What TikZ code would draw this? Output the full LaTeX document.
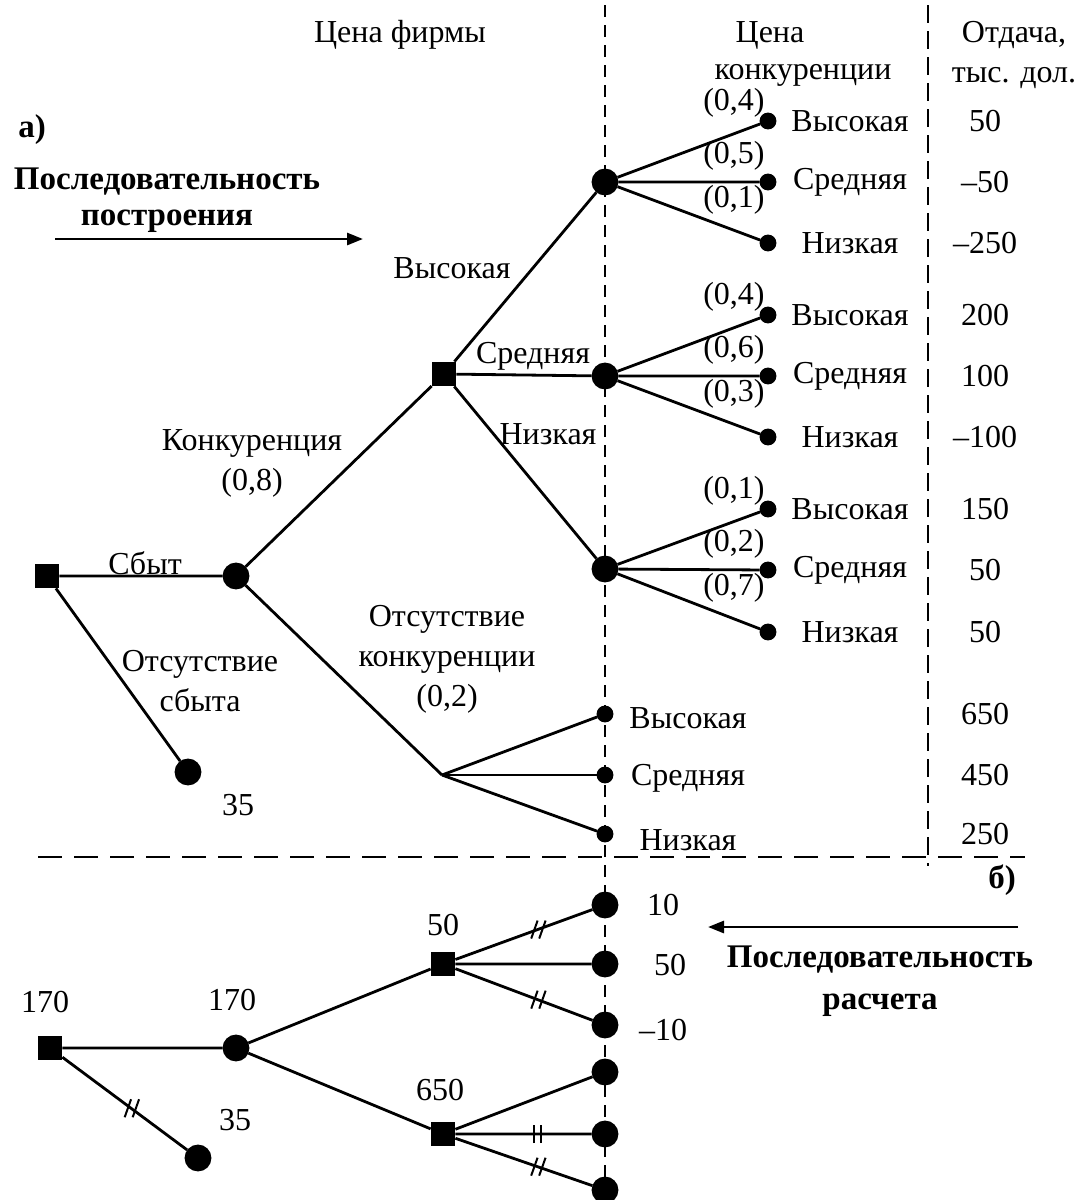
\documentclass[tikz,border=0pt]{standalone}
\usepackage{fontspec}
\setmainfont{Liberation Serif}
\usetikzlibrary{arrows.meta}
\tikzset{
  dec/.style={draw, fill, rectangle, minimum size=11pt, inner sep=0pt},
  chance/.style={draw, fill, circle, minimum size=12pt, inner sep=0pt},
  leaf/.style={draw, fill, circle, minimum size=7pt, inner sep=0pt},
  divider/.style={line width=1pt, dash pattern=on #1 off 4pt},
  cut/.pic={\draw[line width=1pt] (-3.2pt,-4.5pt) -- (0pt,4.5pt) (0.8pt,-4.5pt) -- (4pt,4.5pt);},
  vcut/.pic={\draw[line width=1pt] (-1.8pt,-4.5pt) -- (-1.8pt,4.5pt) (1.8pt,-4.5pt) -- (1.8pt,4.5pt);},
  lbl/.style={inner sep=1pt, align=center},
  bold/.style={font=\fontsize{16.5}{20}\selectfont\bfseries}
}
\begin{document}
\begin{tikzpicture}[x=0.5pt, y=-0.5pt, line width=1.4pt, font=\fontsize{16}{20}\selectfont]
  \useasboundingbox (0,0) rectangle (1082,1200);
  % dividers
  \draw[divider=6pt] (605,5) -- (605,1195);
  \draw[divider=9pt] (928,5) -- (928,866);
  \draw[divider=12pt, dash pattern=on 12pt off 6pt] (38,857) -- (1025,857);
  % headings
  \node[lbl] (hfirm) at (400,35) {Цена фирмы};
  \node[lbl] (hcomp1) at (770,35) {Цена};
  \node[lbl] (hcomp2) at (803,75) {конкуренции};
  \node[lbl] (hpay) at (1014,55) {Отдача,\\тыс. дол.};
  \node[lbl, bold] (tagA) at (32,130) {а)};
  \node[lbl, font=\fontsize{16.5}{18}\selectfont\bfseries] (seqA) at (167,200) {Последовательность\\построения};
  \coordinate (arA1) at (55,239);
  \coordinate (arA2) at (363,239);
  \draw[-{Triangle[length=8pt,width=6pt]}] (arA1) -- (arA2);

  % tree a)
  \node[dec] (r) at (47,576) {};
  \node[chance] (s) at (236,576) {};
  \node[chance] (ns) at (188,772) {};
  \node[dec] (p) at (444,374) {};
  \coordinate (nc) at (442,775);
  \node[chance] (ph) at (605,182) {};
  \node[chance] (pm) at (605,376) {};
  \node[chance] (pl) at (605,569) {};
  \draw (r) -- (s) (r) -- (ns) (s) -- (p) (s) -- (nc);
  \draw (p) -- (ph) (p) -- (pm) (p) -- (pl);
  \node[lbl] (lsb) at (145,563) {Сбыт};
  \node[lbl] (lnsb) at (200,681) {Отсутствие\\сбыта};
  \node[lbl] (l35) at (238,805) {35};
  \node[lbl] (lcomp) at (252,463) {Конкуренция\\(0,8)};
  \node[lbl] (lncomp) at (447,659) {Отсутствие\\конкуренции\\(0,2)};
  \node[lbl] (lph) at (452,268) {Высокая};
  \node[lbl] (lpm) at (533,356) {Средняя};
  \node[lbl] (lpl) at (548,434) {Низкая};
  \foreach \src/\ya/\yb/\yc/\pa/\pb/\pc/\va/\vb/\vc in
      {ph/121/182/243/4/5/1/50/–50/–250, pm/315/376/437/4/6/3/200/100/–100, pl/509/570/632/1/2/7/150/50/50} {
    \node[leaf] (\src-1) at (768,\ya) {};
    \node[leaf] (\src-2) at (768,\yb) {};
    \node[leaf] (\src-3) at (768,\yc) {};
    \draw (\src) -- (\src-1) (\src) -- (\src-2) (\src) -- (\src-3);
    \node[lbl, anchor=south east] at (\src-1.center) {(0,\pa)};
    \node[lbl, anchor=south east] at (\src-2.north) {(0,\pb)};
    \node[lbl, anchor=north east] at (\src-2.center) {(0,\pc)};
    \node[lbl] at (850,\ya) {Высокая};
    \node[lbl] at (850,\yb) {Средняя};
    \node[lbl] at (850,\yc) {Низкая};
    \node[lbl] at (985,\ya) {\va};
    \node[lbl] at (985,\yb) {\vb};
    \node[lbl] at (985,\yc) {\vc};
  }
  \foreach \i/\y/\ty/\txt/\v in {1/714/718/Высокая/650, 2/775/778/Средняя/450, 3/834/840/Низкая/250} {
    \node[leaf] (nc-\i) at (605,\y) {};
    \draw (nc) -- (nc-\i);
    \node[lbl] at (688,\ty) {\txt};
    \node[lbl] at (985,\y) {\v};
  }

  % tree b)
  \node[lbl, bold] (tagB) at (1002,880) {б)};
  \coordinate (arB1) at (1018,927);
  \coordinate (arB2) at (708,927);
  \draw[-{Triangle[length=8pt,width=6pt]}] (arB1) -- (arB2);
  \node[lbl, font=\fontsize{16.5}{21}\selectfont\bfseries] (seqB) at (880,981) {Последовательность\\расчета};
  \node[dec] (rb) at (50,1048) {};
  \node[chance] (sb) at (236,1048) {};
  \node[chance] (nsb) at (198,1158) {};
  \node[dec] (pb) at (443,964) {};
  \node[dec] (ncb) at (443,1134) {};
  \foreach \i/\y in {1/905, 2/964, 3/1025} \node[chance] (pb-\i) at (605,\y) {};
  \foreach \i/\y in {1/1072, 2/1134, 3/1190} \node[chance] (ncb-\i) at (605,\y) {};
  \draw (rb) -- (sb) (sb) -- (pb) (sb) -- (ncb);
  \draw (rb) -- pic[pos=.55]{cut} (nsb);
  \draw (pb) -- pic[pos=.6]{cut} (pb-1) (pb) -- (pb-2) (pb) -- pic[pos=.6]{cut} (pb-3);
  \draw (ncb) -- (ncb-1) (ncb) -- pic[pos=.6]{vcut} (ncb-2) (ncb) -- pic[pos=.6]{cut} (ncb-3);
  \node[lbl] at (45,1002) {170};
  \node[lbl] at (232,1000) {170};
  \node[lbl] at (235,1120) {35};
  \node[lbl] at (443,925) {50};
  \node[lbl] at (440,1090) {650};
  \node[lbl] at (663,905) {10};
  \node[lbl] at (670,965) {50};
  \node[lbl] at (663,1030) {–10};
\end{tikzpicture}
\end{document}
